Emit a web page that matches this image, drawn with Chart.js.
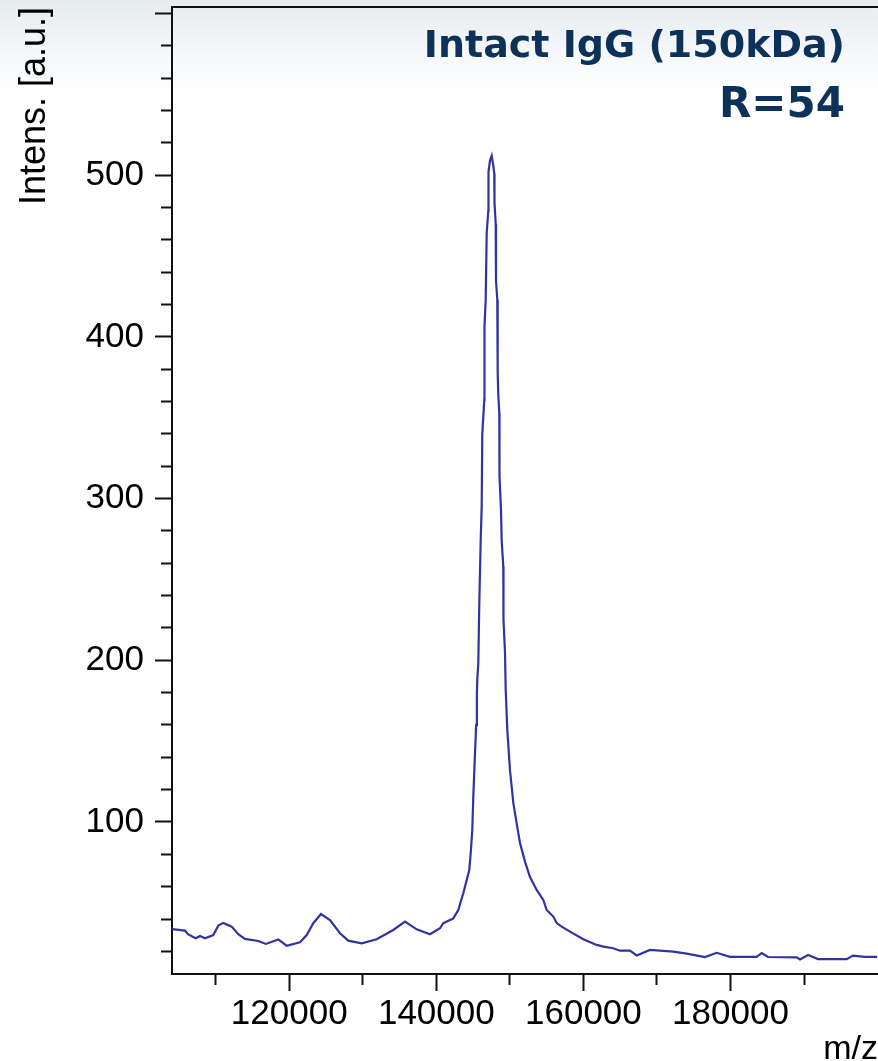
<!DOCTYPE html>
<html lang="en">
<head>
<meta charset="UTF-8">
<title>Intact IgG spectrum</title>
<script src="https://cdn.jsdelivr.net/npm/chart.js@4/dist/chart.umd.min.js"></script>
<style>
  html, body { margin: 0; padding: 0; width: 878px; height: 1061px; overflow: hidden; }
  body { background: linear-gradient(to bottom, #e6ebef 0px, #f3f6f8 45px, #ffffff 95px); position: relative; }
  #chart { display: block; position: absolute; left: 0; top: 0; }
  .note { position: absolute; right: 33px; font-family: "DejaVu Sans", Verdana, sans-serif; font-weight: bold; color: #0c3259; line-height: 1; white-space: nowrap; }
  .n1 { font-size: 38px; top: 25px; }
  .n2 { font-size: 42px; top: 82px; }
</style>
</head>
<body>
<canvas id="chart" width="878" height="1070" style="width:878px;height:1070px"></canvas>
<div class="note n1">Intact IgG (150kDa)</div>
<div class="note n2">R=54</div>

<script>
// spectrum (m/z, intensity)
const mz = [104100, 105825, 106274, 107280, 107865, 108545, 109674, 110354, 111033, 112176,
  113073, 113984, 115793, 116840, 118512, 119655, 121463, 122374, 123272, 124319,
  125543, 126902, 128031, 129853, 131893, 134150, 135741, 137332, 139141, 140500,
  140949, 142309, 142989, 143315, 143669, 143900, 144485, 144675, 144893, 145029,
  145260, 145423, 145518, 145572, 145708, 145844, 146035, 146171, 146252, 146524,
  146551, 146715, 146851, 147068, 147095, 147299, 147530, 147748, 147884, 147911,
  148074, 148115, 148292, 148346, 148428, 148564, 148591, 148795, 148890, 149108,
  149135, 149339, 149434, 149652, 150019, 150467, 150930, 151379, 152059, 152739,
  153650, 154547, 155009, 155907, 156369, 157049, 158178, 159986, 161808, 162706,
  164065, 164977, 166337, 167248, 169056, 172224, 174047, 176535, 178126, 179934,
  183565, 184245, 185101, 189004, 189453, 190541, 191900, 194444, 195803, 196660,
  198292, 199950];
const intens = [33.8, 32.8, 30.5, 28.1, 29.5, 28.1, 30.1, 35.9, 37.6, 35.3,
  30.6, 27.7, 26.4, 24.6, 27.4, 23.5, 25.6, 30.1, 37.4, 43.1,
  39.4, 31.2, 26.6, 25.0, 27.5, 33.2, 38.4, 33.6, 30.6, 34.3,
  37.4, 40.4, 45.6, 50.7, 55.9, 60.0, 70.3, 80.6, 95.1, 115.6,
  142.5, 160, 180, 188, 198, 235, 274, 295, 340, 361,
  406, 423, 464, 478, 502, 509, 512, 506, 501, 483,
  470, 435, 423, 378, 364, 353, 314, 293, 274, 258,
  225, 205, 182, 157, 132, 112, 99, 87, 75.5, 66,
  58, 51.8, 45.6, 41.5, 37.5, 35.3, 32.2, 27.5, 24.0, 22.9,
  21.9, 20.4, 20.4, 17.5, 20.9, 19.8, 18.6, 16.5, 19.1, 16.6,
  16.6, 19.0, 16.5, 16.3, 15.0, 17.8, 15.2, 15.2, 15.2, 17.4,
  16.6, 16.6];

// axis ticks
const xMajorTicks = [120000, 140000, 160000, 180000];
const xMinorTicks = [110000, 130000, 150000, 170000, 190000];
const yMajorTicks = [100, 200, 300, 400, 500, 600];
const yMinorTicks = [20, 40, 60, 80, 120, 140, 160, 180, 220, 240, 260, 280,
  320, 340, 360, 380, 420, 440, 460, 480, 520, 540, 560, 580];
const xRange = [104060, 200060];
const yRange = [6, 604];

const ink = '#111111';
Chart.defaults.font.family = '"Liberation Sans", Arial, sans-serif';
Chart.defaults.color = '#000000';

const setTicks = list => s => { s.ticks = list.map(v => ({ value: v })); };
const noPad = s => { s.paddingTop = 0; s.paddingBottom = 0; s.paddingLeft = 0; s.paddingRight = 0; };

new Chart(document.getElementById('chart'), {
  type: 'line',
  data: {
    datasets: [{
      data: mz.map((m, i) => ({ x: m, y: intens[i] })),
      borderColor: '#3333a0',
      borderWidth: 2.2,
      pointRadius: 0,
      tension: 0,
      fill: false,
      xAxisID: 'x',
      yAxisID: 'y'
    }]
  },
  options: {
    responsive: false,
    animation: false,
    devicePixelRatio: 1,
    layout: { padding: { top: 7, left: 0, right: 0, bottom: 0 } },
    plugins: { legend: { display: false }, tooltip: { enabled: false } },
    scales: {
      x: {
        type: 'linear', position: 'bottom', weight: 1,
        min: xRange[0], max: xRange[1],
        afterBuildTicks: setTicks(xMajorTicks),
        afterFit: s => { s.height = 96; noPad(s); },
        ticks: { font: { size: 35 }, padding: 2, maxRotation: 0, minRotation: 0, autoSkip: false,
          callback: v => String(v) },
        grid: { display: true, drawOnChartArea: false, drawTicks: true, tickLength: 17, tickWidth: 2, tickColor: ink },
        border: { display: true, color: ink, width: 2 },
        title: { display: true, text: 'm/z', align: 'end', font: { size: 34 }, padding: 0 }
      },
      xMinor: {
        type: 'linear', position: 'bottom', weight: 0,
        min: xRange[0], max: xRange[1],
        afterBuildTicks: setTicks(xMinorTicks),
        afterFit: s => { s.height = 0; noPad(s); },
        ticks: { display: false },
        grid: { display: true, drawOnChartArea: false, drawTicks: true, tickLength: 11, tickWidth: 2, tickColor: ink },
        border: { display: false }
      },
      xTop: {
        type: 'linear', position: 'top',
        min: xRange[0], max: xRange[1],
        afterBuildTicks: s => { s.ticks = []; },
        afterFit: s => { s.height = 0; noPad(s); },
        ticks: { display: false },
        grid: { display: false },
        border: { display: true, color: ink, width: 2 }
      },
      y: {
        type: 'linear', position: 'left', weight: 1,
        min: yRange[0], max: yRange[1],
        afterBuildTicks: setTicks(yMajorTicks),
        afterFit: s => { s.width = 172; noPad(s); },
        ticks: { font: { size: 35 }, padding: 11, autoSkip: false,
          callback: v => (v === 600 ? '' : String(v)) },
        grid: { display: true, drawOnChartArea: false, drawTicks: true, tickLength: 17, tickWidth: 2, tickColor: ink },
        border: { display: true, color: ink, width: 2 },
        title: { display: true, text: 'Intens. [a.u.]', align: 'end', font: { size: 36 }, padding: { top: 13, bottom: 0 } }
      },
      yMinor: {
        type: 'linear', position: 'left', weight: 0,
        min: yRange[0], max: yRange[1],
        afterBuildTicks: setTicks(yMinorTicks),
        afterFit: s => { s.width = 0; noPad(s); },
        ticks: { display: false },
        grid: { display: true, drawOnChartArea: false, drawTicks: true, tickLength: 11, tickWidth: 2, tickColor: ink },
        border: { display: false }
      }
    }
  }
});
</script>
</body>
</html>
